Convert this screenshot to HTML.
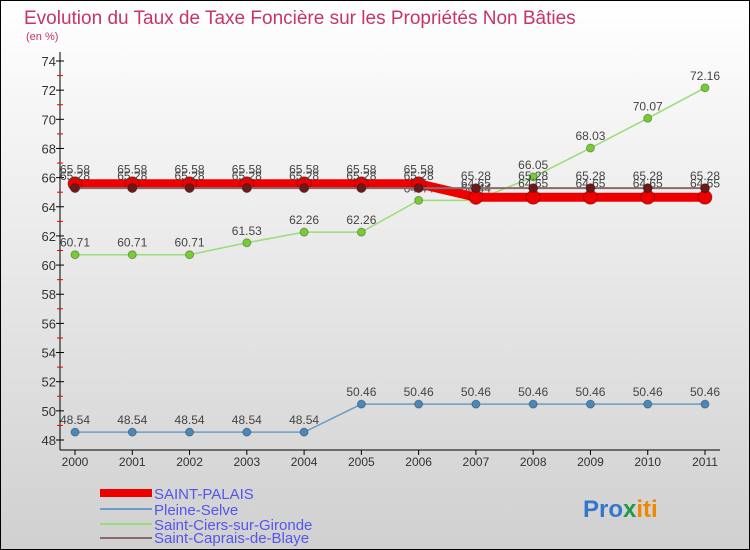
<!DOCTYPE html>
<html><head><meta charset="utf-8"><style>
body{margin:0}
svg{display:block;font-family:"Liberation Sans",sans-serif}
</style></head><body>
<svg id="c" width="750" height="550" viewBox="0 0 750 550">
<defs><linearGradient id="bg" x1="0" y1="0" x2="0" y2="1"><stop offset="0" stop-color="#ffffff"/><stop offset="1" stop-color="#d0d0d0"/></linearGradient></defs>
<rect x="0" y="0" width="750" height="550" fill="url(#bg)" stroke="#000" stroke-width="2"/>
<text x="24" y="24" font-size="19" fill="#c8336a">Evolution du Taux de Taxe Foncière sur les Propriétés Non Bâties</text>
<text x="26" y="40" font-size="11" fill="#c8336a">(en %)</text>
<g id="axes"></g>
<g id="series"></g>
<g id="legend">
<rect x="100" y="489" width="52" height="8" fill="#ee0000"/>
<text x="154" y="499" font-size="15" fill="#5555ee">SAINT-PALAIS</text>
<line x1="100" y1="509" x2="152" y2="509" stroke="#6a9cc4" stroke-width="2"/>
<text x="154" y="515" font-size="15" fill="#5555ee">Pleine-Selve</text>
<line x1="100" y1="524" x2="152" y2="524" stroke="#99dd77" stroke-width="2"/>
<text x="154" y="530" font-size="15" fill="#5555ee">Saint-Ciers-sur-Gironde</text>
<line x1="100" y1="538" x2="152" y2="538" stroke="#8a6a6a" stroke-width="2"/>
<text x="154" y="543" font-size="15" fill="#5555ee">Saint-Caprais-de-Blaye</text>
</g>
<text x="583" y="517" font-size="24" font-weight="bold"><tspan fill="#3377cc">Pro</tspan><tspan fill="#229944">x</tspan><tspan fill="#ee8800">iti</tspan></text>
</svg>
<script>
const years=[2000,2001,2002,2003,2004,2005,2006,2007,2008,2009,2010,2011];
const yTicks=[48,50,52,54,56,58,60,62,64,66,68,70,72,74];
const saintPalais=[65.58,65.58,65.58,65.58,65.58,65.58,65.58,64.65,64.65,64.65,64.65,64.65];
const pleineSelve=[48.54,48.54,48.54,48.54,48.54,50.46,50.46,50.46,50.46,50.46,50.46,50.46];
const saintCiers=[60.71,60.71,60.71,61.53,62.26,62.26,64.44,64.44,66.05,68.03,70.07,72.16];
const saintCaprais=[65.28,65.28,65.28,65.28,65.28,65.28,65.28,65.28,65.28,65.28,65.28,65.28];
const NS="http://www.w3.org/2000/svg";
const X=i=>75+i*(630/11);
const Y=v=>440-(v-48)*(379/26);
function mk(t,a,p){const e=document.createElementNS(NS,t);for(const k in a)e.setAttribute(k,a[k]);p.appendChild(e);return e;}
const ax=document.getElementById('axes'),se=document.getElementById('series');
let l=mk('line',{x1:60,y1:52,x2:60,y2:450,stroke:'#000'},ax);


l=mk('line',{x1:60,y1:450,x2:720,y2:450,stroke:'#000'},ax);


yTicks.forEach(v=>{
 mk('line',{x1:56,y1:Y(v),x2:64,y2:Y(v),stroke:'#000'},ax);
 if(v<74)mk('line',{x1:57,y1:Y(v+1),x2:63,y2:Y(v+1),stroke:'#e00'},ax);
 const t=mk('text',{x:56,y:Y(v)+5,'font-size':13,'text-anchor':'end',fill:'#333'},ax);t.textContent=v;
 
 
});
years.forEach((y,i)=>{
 mk('line',{x1:X(i),y1:450,x2:X(i),y2:455,stroke:'#000'},ax);
 const t=mk('text',{x:X(i),y:466,'font-size':12,'text-anchor':'middle',fill:'#333'},ax);t.textContent=y;
 
 
});
function draw(vals,name,color,w,r,dot,labDy){
 const g=mk('g',{},se);
 
 
 mk('polyline',{points:vals.map((v,i)=>X(i)+','+Y(v)).join(' '),fill:'none',stroke:color,'stroke-width':w},g);
 vals.forEach((v,i)=>{
  const c=mk('circle',{cx:X(i),cy:Y(v),r:r,fill:dot,stroke:'rgba(0,0,0,0.3)'},g);
  
  
  const t=mk('text',{x:X(i),y:Y(v)+labDy,'font-size':12,'text-anchor':'middle',fill:'#444'},g);t.textContent=v.toFixed(2).replace(/\.?0+$/,'');
  
  
 });
}
draw(saintCiers,'saint-ciers-sur-gironde','#99dd77',1.5,4,'#77cc33',-8);
draw(pleineSelve,'pleine-selve','#6a9cc4',1.5,4,'#4a88bb',-8);
draw(saintPalais,'saint-palais','#ee0000',9,7,'#ee0000',-10);
draw(saintCaprais,'saint-caprais-de-blaye','#8a6a6a',2,4.5,'#6a1a1a',-8);
</script>
</body></html>
